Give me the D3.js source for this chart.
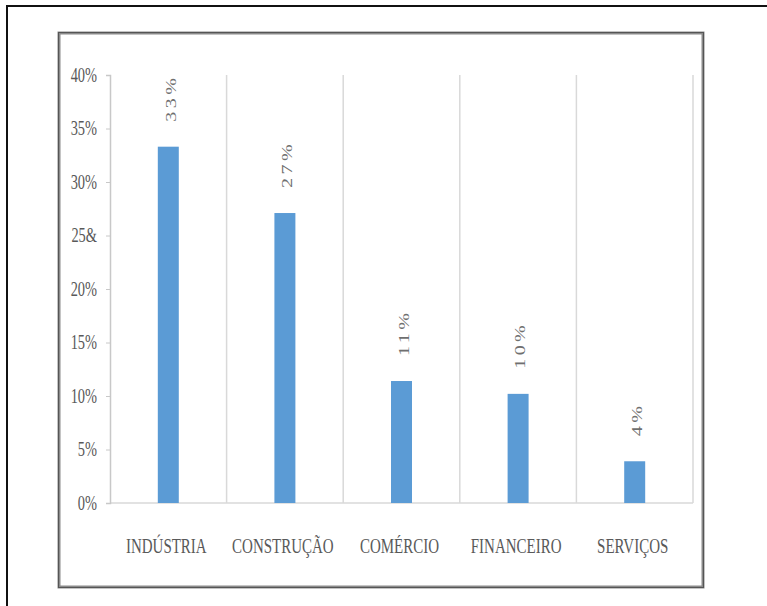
<!DOCTYPE html>
<html>
<head>
<meta charset="utf-8">
<script src="https://cdn.jsdelivr.net/npm/d3@7"></script>
<style>
  body { margin: 0; background: #fff; }
  text { font-family: "Liberation Serif", serif; fill: #595959; }
</style>
</head>
<body>
<svg id="chart" width="767" height="606"></svg>
<script>
// data
var categories = ['INDÚSTRIA', 'CONSTRUÇÃO', 'COMÉRCIO', 'FINANCEIRO', 'SERVIÇOS']
var values = [33.3, 27.1, 11.4, 10.2, 3.9]
var valueLabels = ['33%', '27%', '11%', '10%', '4%']
var tickValues = [0, 5, 10, 15, 20, 25, 30, 35, 40]
var tickLabels = ['0%', '5%', '10%', '15%', '20%', '25&', '30%', '35%', '40%']

var svg = d3.select('#chart')

// outer frame (runs off the right and bottom of the picture)
svg.append('rect')
    .attr('x', 7).attr('y', 6)
    .attr('width', 820).attr('height', 700)
    .attr('fill', 'none')
    .attr('stroke', '#111')
    .attr('stroke-width', 2)

// inner chart box with a soft gray edge
svg.append('rect')
    .attr('x', 59).attr('y', 33)
    .attr('width', 644).attr('height', 554)
    .attr('fill', '#fff')
    .attr('stroke', '#8a8a8a')
    .attr('stroke-width', 3)
svg.append('rect')
    .attr('x', 58.5).attr('y', 32.5)
    .attr('width', 645).attr('height', 555)
    .attr('fill', 'none')
    .attr('stroke', '#555')
    .attr('stroke-width', 1)

// scales
var x = d3.scaleBand()
    .domain(categories)
    .range([110, 693])

var y = d3.scaleLinear()
    .domain([0, 40])
    .range([503, 75])

var g = svg.append('g')

// category separators
g.selectAll('.sep')
    .data(categories)
  .enter().append('line')
    .attr('x1', function (d) { return x(d) + x.bandwidth() })
    .attr('x2', function (d) { return x(d) + x.bandwidth() })
    .attr('y1', y(40))
    .attr('y2', y(0))
    .attr('stroke', '#d9d9d9')
    .attr('stroke-width', 1.5)

// baseline
g.append('line')
    .attr('x1', x.range()[0]).attr('x2', x.range()[1])
    .attr('y1', y(0)).attr('y2', y(0))
    .attr('stroke', '#d9d9d9')
    .attr('stroke-width', 1.5)

// y axis
var yAxis = g.append('g')
    .attr('transform', 'translate(110,0)')
    .call(d3.axisLeft(y)
      .tickValues(tickValues)
      .tickSize(4)
      .tickFormat(function (d, i) { return tickLabels[i] }))

yAxis.select('.domain').attr('stroke', '#c8c8c8').attr('stroke-width', 1.5)
yAxis.selectAll('.tick line').attr('stroke', '#c8c8c8')
yAxis.selectAll('.tick text')
    .attr('x', 0)
    .attr('dy', '0.32em')
    .attr('transform', 'translate(-13,0) scale(0.72,1)')
    .style('font-family', '"Liberation Serif", serif')
    .style('font-size', '20px')
    .style('fill', '#595959')

// bars
var barW = x.bandwidth() * 0.18
g.selectAll('.bar')
    .data(values)
  .enter().append('rect')
    .attr('class', 'bar')
    .attr('x', function (d, i) { return x(categories[i]) + x.bandwidth() / 2 - barW / 2 })
    .attr('width', barW)
    .attr('y', function (d) { return y(d) })
    .attr('height', function (d) { return y(0) - y(d) })
    .attr('fill', '#5b9bd5')

// rotated value labels
g.selectAll('.bar-label')
    .data(values)
  .enter().append('text')
    .attr('transform', function (d, i) {
      var cx = x(categories[i]) + x.bandwidth() / 2 + 2
      return 'translate(' + cx + ',' + (y(d) - 25) + ') scale(0.75,1) rotate(-90)'
    })
    .attr('dy', '0.35em')
    .style('font-size', '20px')
    .style('letter-spacing', '3.5px')
    .style('fill', '#6f6f6f')
    .text(function (d, i) { return valueLabels[i] })

// category labels
g.selectAll('.x-label')
    .data(categories)
  .enter().append('text')
    .attr('transform', function (d) {
      return 'translate(' + (x(d) + x.bandwidth() / 2 - 2) + ',' + (y(0) + 50) + ') scale(0.75,1)'
    })
    .attr('text-anchor', 'middle')
    .style('font-size', '20px')
    .text(function (d) { return d })
</script>
</body>
</html>
